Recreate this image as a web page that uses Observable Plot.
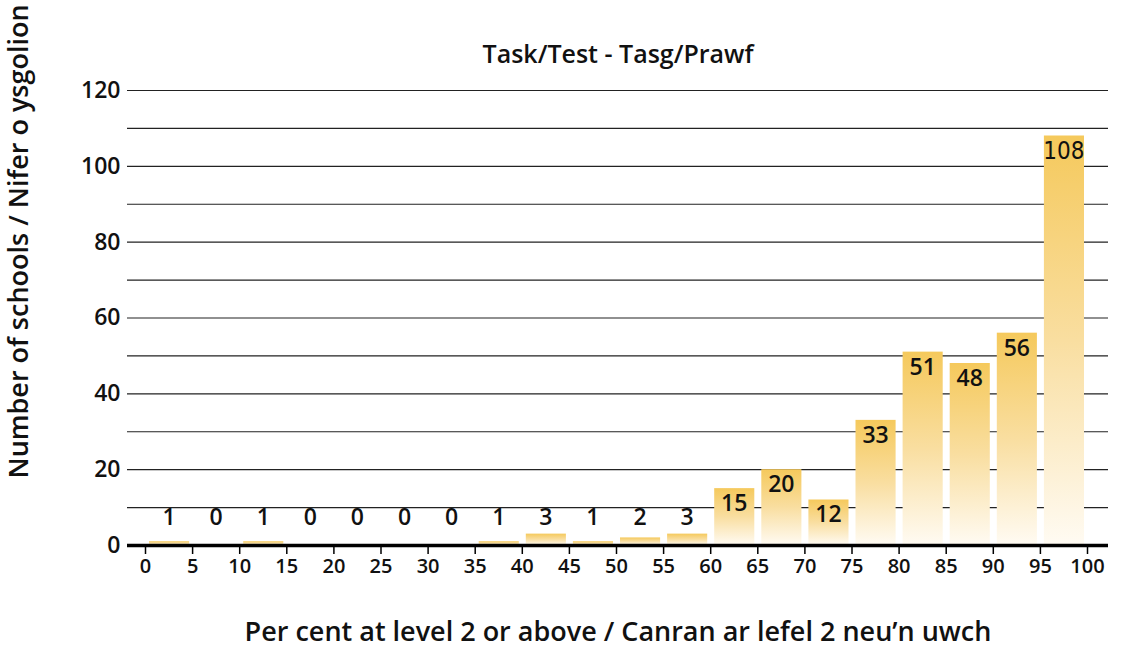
<!DOCTYPE html>
<html><head><meta charset="utf-8">
<script src="https://cdn.jsdelivr.net/npm/d3@7"></script>
<script src="https://cdn.jsdelivr.net/npm/@observablehq/plot@0.6"></script>
<style>
body{margin:0;background:#fff;}
#chart svg{display:block;}
</style>
</head><body><div id="chart"></div>
<script>
const binStarts = [0,5,10,15,20,25,30,35,40,45,50,55,60,65,70,75,80,85,90,95];
const binWidth = 5;
const schools = [1,0,1,0,0,0,0,1,3,1,2,3,15,20,12,33,51,48,56,108];
const xTicks = [0,5,10,15,20,25,30,35,40,45,50,55,60,65,70,75,80,85,90,95,100];
const yTicks = [0,20,40,60,80,100,120];
const gridLines = [10,20,30,40,50,60,70,80,90,100,110,120];
const titleText = "Task/Test - Tasg/Prawf";
const xLabel = "Per cent at level 2 or above / Canran ar lefel 2 neu\u2019n uwch";
const yLabel = "Number of schools / Nifer o ysgolion";

const data = binStarts.map((s, i) => ({x1: s, x2: s + binWidth, value: schools[i]}));
const font = "'Open Sans', 'Noto Sans', sans-serif";
const mid = d => (d.x1 + d.x2) / 2;

const chart = Plot.plot({
  width: 1124,
  height: 654,
  marginTop: 90,
  marginBottom: 109,
  marginLeft: 127,
  marginRight: 16,
  x: {domain: [0, 100], insetLeft: 18, insetRight: 21},
  y: {domain: [0, 120]},
  style: {fontFamily: font, fontWeight: 600, color: "#111", background: "#fff"},
  marks: [
    Plot.ruleY(gridLines, {stroke: "#222", strokeWidth: 1.2}),
    Plot.rectY(data, {x1: "x1", x2: "x2", y: "value", fill: "url(#barGrad)", insetLeft: 4, insetRight: 3}),
    Plot.ruleY([0], {stroke: "#000", strokeWidth: 3.5}),
    Plot.axisX({ticks: xTicks, tickSize: 9, tickPadding: 4, fontSize: 20, stroke: "#000", strokeWidth: 1.5, tickFormat: d => String(d), label: null}),
    Plot.axisY({ticks: yTicks, tickSize: 0, tickPadding: 7, fontSize: 23, tickFormat: d => String(d), label: null}),
    Plot.text(data.filter(d => d.value >= 10 && d.value < 100), {x: mid, y: "value", text: d => String(d.value), dy: 15, fontSize: 23, fill: "#111"}),
    Plot.text(data.filter(d => d.value >= 100), {x: mid, y: "value", text: d => String(d.value), dy: 15, fontSize: 24, fontWeight: 400, fontFamily: "'Liberation Sans Narrow', 'DejaVu Sans Condensed', sans-serif", fill: "#111"}),
    Plot.text(data.filter(d => d.value < 10), {x: mid, y: 0, text: d => String(d.value), dy: -28, fontSize: 23, fill: "#111"}),
    Plot.text([titleText], {frameAnchor: "top", dy: -45, text: d => d, fontSize: 25, fill: "#111"}),
    Plot.text([xLabel], {frameAnchor: "bottom", dy: 95, text: d => d, fontSize: 27, fill: "#111"}),
    Plot.text([yLabel], {frameAnchor: "bottom-left", dx: -100, dy: -67, rotate: -90, textAnchor: "start", text: d => d, fontSize: 27, fill: "#111"})
  ]
});

d3.select(chart).insert("defs", ":first-child").html(
  '<linearGradient id="barGrad" x1="0" y1="0" x2="0" y2="1">' +
  '<stop offset="0" stop-color="#f5c95c"/>' +
  '<stop offset="0.5" stop-color="#f9dea0"/>' +
  '<stop offset="1" stop-color="#fffbf3"/>' +
  '</linearGradient>'
);
document.getElementById("chart").appendChild(chart);
</script>
</body></html>
